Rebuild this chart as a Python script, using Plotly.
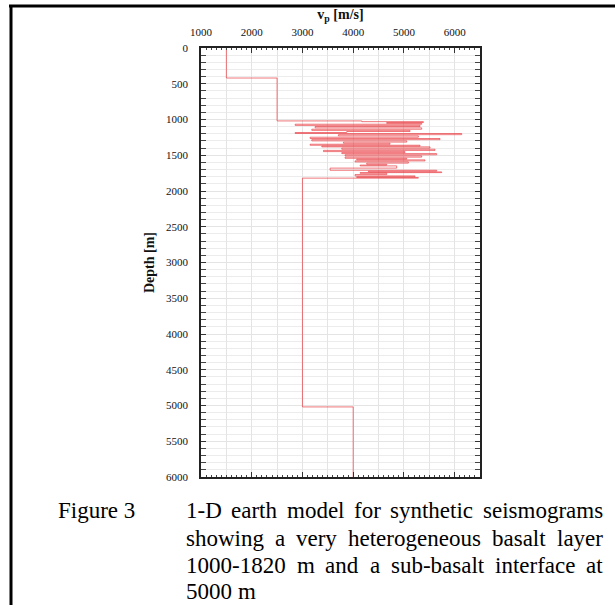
import plotly.graph_objects as go

# ---------------- data ----------------
# layered 1-D earth model: depth of the top of each layer [m] and its P velocity [m/s]
upper_depth = [0, 420]
upper_vp = [1500, 2500]

basalt_depth = [1020, 1030, 1042, 1054, 1066, 1082, 1098, 1117, 1136, 1152, 1168, 1182,
                1196, 1212, 1229, 1248, 1266, 1282, 1299, 1316, 1332, 1346, 1360, 1372,
                1383, 1400, 1416, 1432, 1449, 1463, 1477, 1493, 1509, 1526, 1542, 1554,
                1565, 1579, 1593, 1610, 1626, 1638, 1649, 1680, 1710, 1722, 1733, 1743,
                1752, 1770, 1789, 1800, 1812]
basalt_vp = [4170, 5384, 4661, 5351, 2856, 5318, 3250, 5351, 3184, 5121, 3873, 2856,
             6139, 3709, 5285, 3151, 5712, 3184, 5055, 3808, 4727, 3151, 5318, 3381,
             5515, 3775, 5613, 3414, 5022, 3775, 5646, 3840, 5351, 3840, 5055, 4070,
             5416, 4037, 5088, 4267, 4661, 4136, 4858, 3545, 5646, 4300, 5745, 4136,
             4661, 4037, 5220, 4070, 5285]

lower_depth = [1820, 5020]
lower_vp = [3000, 4000]
model_bottom = 6000

x_range = [1000, 6500]
x_ticks = [1000, 2000, 3000, 4000, 5000, 6000]
y_ticks = [0, 500, 1000, 1500, 2000, 2500, 3000, 3500, 4000, 4500, 5000, 5500, 6000]

caption_label = "Figure 3"
caption_lines = [
    "1-D earth model for synthetic seismograms",
    "showing a very heterogeneous basalt layer",
    "1000-1820 m and a sub-basalt interface at",
    "5000 m",
]

# ---------------- figure ----------------
depth = upper_depth + basalt_depth + lower_depth
vp = upper_vp + basalt_vp + lower_vp
depth_line = depth + [model_bottom]
vp_line = vp + [vp[-1]]

W, H = 615, 605
ML, MR, MT, MB = 201, 135, 48, 128
PW, PH = W - ML - MR, H - MT - MB


def px(xp):
    return (xp - ML) / PW


def py(yp):
    return (H - MB - yp) / PH


fig = go.Figure()
# invisible carrier so the base (grid) subplot is drawn
fig.add_trace(go.Scatter(
    x=vp_line, y=depth_line, xaxis="x", yaxis="y", mode="none",
    showlegend=False, hoverinfo="skip"))
# profile drawn on the overlay x axis (top axis with ticks/labels)
fig.add_trace(go.Scatter(
    x=vp_line, y=depth_line, xaxis="x2", yaxis="y", mode="lines", line_shape="vh",
    line=dict(color="rgba(232,55,60,0.68)", width=1), showlegend=False,
    hoverinfo="skip"))

serif = "Liberation Serif, Times New Roman, serif"
tickfont = dict(family=serif, size=11, color="#111")

# main x axis: only the 500 m/s grid
fig.update_layout(xaxis=dict(
    range=x_range, tickmode="linear", tick0=0, dtick=500, ticks="",
    showticklabels=False, showline=False, showgrid=True, gridcolor="#e4e4e4",
    gridwidth=1, zeroline=False))

# overlay x axis on top: frame, ticks and labels
fig.update_layout(xaxis2=dict(
    overlaying="x", matches="x", side="top", range=x_range,
    tickmode="array", tickvals=x_ticks, ticks="inside", ticklen=5,
    tickcolor="#333", tickwidth=1, ticklabelstandoff=6,
    showline=True, linecolor="#222", linewidth=1.5, mirror="allticks",
    showgrid=False, zeroline=False, tickfont=tickfont,
    minor=dict(dtick=100, tick0=0, ticks="inside", ticklen=2.5, tickcolor="#444",
               showgrid=False),
    title=dict(text="<b>v<sub>p</sub> [m/s]</b>", standoff=3,
               font=dict(family=serif, size=14, color="#111"))))

fig.update_yaxes(
    range=[model_bottom, 0], tickmode="array", tickvals=y_ticks,
    ticks="inside", ticklen=5, tickcolor="#333", tickwidth=1,
    ticklabelstandoff=9, showline=True, linecolor="#222", linewidth=1.5,
    mirror="allticks", showgrid=True, gridcolor="#e4e4e4", gridwidth=1,
    zeroline=False, tickfont=tickfont,
    minor=dict(dtick=100, tick0=0, ticks="inside", ticklen=2.5, tickcolor="#444",
               showgrid=True, gridcolor="#ececec", gridwidth=1),
    title=dict(text="<b>Depth [m]</b>", standoff=8,
               font=dict(family=serif, size=14, color="#111")))

# page frame lines (top and left border of the document box)
fig.add_shape(type="line", xref="paper", yref="paper",
              x0=px(9), x1=px(616), y0=py(6), y1=py(6),
              line=dict(color="black", width=3))
fig.add_shape(type="line", xref="paper", yref="paper",
              x0=px(11), x1=px(11), y0=py(6), y1=py(606),
              line=dict(color="black", width=3))

# caption
cap_font = dict(family=serif, size=23, color="black")
fig.add_annotation(text=caption_label, xref="paper", yref="paper",
                   x=px(57), y=py(510), xanchor="left", yanchor="middle",
                   showarrow=False, font=cap_font, borderpad=0)

# Times-Roman advance widths (per 1000 em) to justify the caption lines
TW = {" ": 250, "-": 333, "D": 722, "a": 444, "b": 500, "c": 444, "d": 500, "e": 444,
      "f": 333, "g": 500, "h": 500, "i": 278, "l": 278, "m": 778, "n": 500, "o": 500,
      "p": 500, "r": 333, "s": 389, "t": 278, "u": 500, "v": 500, "w": 722, "y": 500,
      "x": 500}


def word_w(w, size):
    return sum(TW.get(c, 500) for c in w) * size / 1000.0


line_x0, line_x1 = 185, 602
line_ys = [510, 538, 565, 591]
for i, line in enumerate(caption_lines):
    words = line.split(" ")
    if i < len(caption_lines) - 1:
        total = sum(word_w(w, 23) for w in words)
        gap = (line_x1 - line_x0 - total) / (len(words) - 1)
    else:
        gap = word_w(" ", 23)
    xcur = line_x0
    for w in words:
        fig.add_annotation(text=w, xref="paper", yref="paper",
                           x=px(xcur), y=py(line_ys[i]), xanchor="left",
                           yanchor="middle", showarrow=False, font=cap_font,
                           borderpad=0)
        xcur += word_w(w, 23) + gap

fig.update_layout(
    width=W, height=H, margin=dict(l=ML, r=MR, t=MT, b=MB, autoexpand=False),
    paper_bgcolor="white", plot_bgcolor="white", showlegend=False,
)

fig.write_html("out.html")
